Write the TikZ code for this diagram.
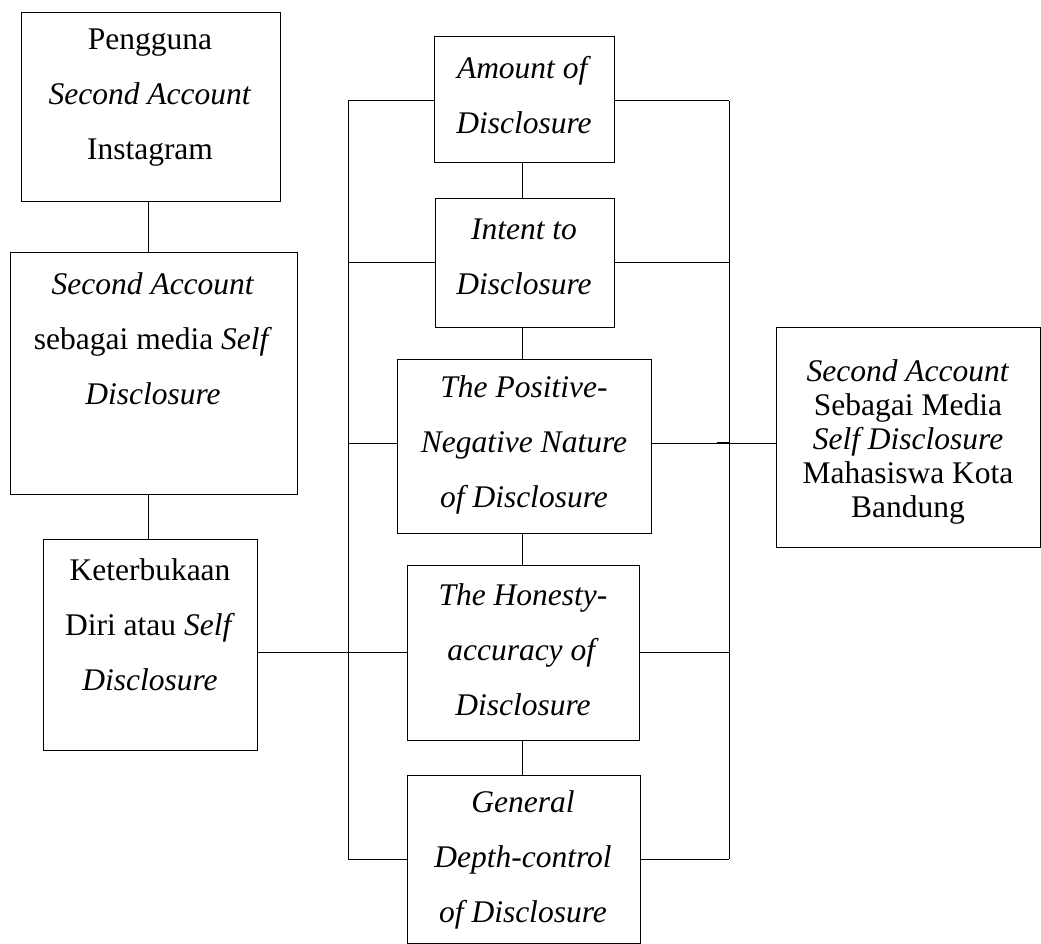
\documentclass[tikz,border=0pt]{standalone}
\usepackage{fontspec}
\setmainfont{Liberation Serif}
\begin{document}
\begin{tikzpicture}[x=1pt,y=-1pt,
  box/.style={draw, line width=1pt, inner sep=0pt, outer sep=0pt},
  txt/.style={align=center, inner sep=0pt, font=\fontsize{31.5}{55}\selectfont},
  txtb/.style={align=center, inner sep=0pt, font=\fontsize{31.5}{34}\selectfont},
  ln/.style={line width=1pt}]
\useasboundingbox (0,0) rectangle (1041,944);
% boxes
\node[box, minimum width=259, minimum height=189] (b1) at (150.5,107.5) {};
\node[box, minimum width=287, minimum height=242] (b2) at (153.5,373) {};
\node[box, minimum width=214, minimum height=211] (b3) at (150,644.5) {};
\node[box, minimum width=180, minimum height=126] (b4) at (524,100) {};
\node[box, minimum width=179, minimum height=128] (b5) at (524.5,263) {};
\node[box, minimum width=254, minimum height=174] (b6) at (524,446) {};
\node[box, minimum width=232, minimum height=175] (b7) at (523,652.5) {};
\node[box, minimum width=233, minimum height=168] (b8) at (523.5,859) {};
\node[box, minimum width=264, minimum height=220] (b9) at (908.5,437) {};
% texts
\node[txt] (t1) at (150,98) {Pengguna\\\textit{Second Account}\\Instagram};
\node[txt] (t2) at (153,339) {\textit{Second Account}\\sebagai media \textit{Self}\\\textit{Disclosure}};
\node[txt] (t3) at (150,625) {Keterbukaan\\Diri atau \textit{Self}\\\textit{Disclosure}};
\node[txt] (t4) at (524,95) {\textit{Amount of}\\\textit{Disclosure}};
\node[txt] (t5) at (524,257) {\textit{Intent to}\\\textit{Disclosure}};
\node[txt] (t6) at (524,445) {\textit{The Positive-}\\\textit{Negative Nature}\\\textit{of Disclosure}};
\node[txt] (t7) at (523,650) {\textit{The Honesty-}\\\textit{accuracy of}\\\textit{Disclosure}};
\node[txt] (t8) at (523,860) {\textit{General}\\\textit{Depth-control}\\\textit{of Disclosure}};
\node[txtb] (t9) at (908,442) {\textit{Second Account}\\Sebagai Media\\\textit{Self Disclosure}\\Mahasiswa Kota\\Bandung};
% bus coordinates
\coordinate (L1) at (348,101);
\coordinate (L2) at (348,262);
\coordinate (L3) at (348,443);
\coordinate (L4) at (348,652);
\coordinate (L5) at (348,859);
\coordinate (R1) at (729,101);
\coordinate (R2) at (729,262);
\coordinate (R3) at (729,443);
\coordinate (R4) at (729,652);
\coordinate (R5) at (729,859);
\coordinate (K) at (717,443);
% left column links
\draw[ln] (b1.south -| 148,0) -- (b2.north -| 148,0);
\draw[ln] (b2.south -| 148,0) -- (b3.north -| 148,0);
% centre links
\draw[ln] (b4.south -| 522,0) -- (b5.north -| 522,0);
\draw[ln] (b5.south -| 522,0) -- (b6.north -| 522,0);
\draw[ln] (b6.south -| 522,0) -- (b7.north -| 522,0);
\draw[ln] (b7.south -| 522,0) -- (b8.north -| 522,0);
% buses
\draw[ln] (L1) -- (L5);
\draw[ln] (R1) -- (R5);
% left branches
\draw[ln] (L1) -- (b4.west |- L1);
\draw[ln] (L2) -- (b5.west |- L2);
\draw[ln] (L3) -- (b6.west |- L3);
\draw[ln] (b3.east |- L4) -- (b7.west |- L4);
\draw[ln] (L5) -- (b8.west |- L5);
% right branches
\draw[ln] (b4.east |- R1) -- (R1);
\draw[ln] (b5.east |- R2) -- (R2);
\draw[ln] (b6.east |- R3) -- (b9.west |- R3);
\draw[line width=2.2pt] (K) -- (R3);
\draw[ln] (b7.east |- R4) -- (R4);
\draw[ln] (b8.east |- R5) -- (R5);
\end{tikzpicture}
\end{document}
